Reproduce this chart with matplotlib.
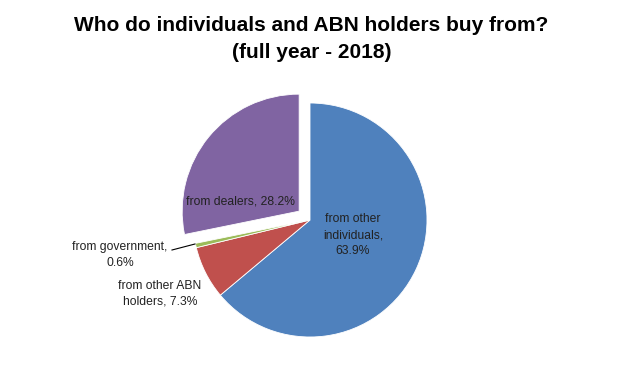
import matplotlib.pyplot as plt

# slices in clockwise order from 12 o'clock
labels = ['from other\nindividuals,\n63.9%', 'from other ABN\nholders, 7.3%',
          'from government,\n0.6%', 'from dealers, 28.2%']
values = [63.9, 7.3, 0.6, 28.2]
colors = ['#4F81BD', '#C0504D', '#9BBB59', '#8064A2']
explode = [0, 0, 0, 14]  # in pixels (data units)

W, H = 623, 369
fig = plt.figure(figsize=(W / 100, H / 100), dpi=100)
ax = fig.add_axes([0, 0, 1, 1])

cx, cy, r = 310, H - 220, 117
ax.pie(values, colors=colors, explode=explode, startangle=90, counterclock=False,
       center=(cx, cy), radius=r, wedgeprops=dict(edgecolor='white', linewidth=0.6))
ax.set_xlim(0, W)
ax.set_ylim(0, H)
ax.set_aspect('equal')
ax.axis('off')

font = 'Liberation Sans'
ax.text(W / 2, H - 39, 'Who do individuals and ABN holders buy from?\n(full year - 2018)',
        ha='center', va='center', fontsize=15, fontweight='bold', family=font,
        linespacing=1.55)

# label positions (pixels from top-left)
pos = [(353, 235), (160, 294), (120, 255), (240, 202)]
for lab, (x, y) in zip(labels, pos):
    ax.text(x, H - y, lab, ha='center', va='center', fontsize=8.7, family=font,
            linespacing=1.4, color='#222222')

# leader line for the small slice
ax.plot([172, 195], [H - 250, H - 244], color='black', lw=0.8)

fig.savefig('out.png', dpi=100)
